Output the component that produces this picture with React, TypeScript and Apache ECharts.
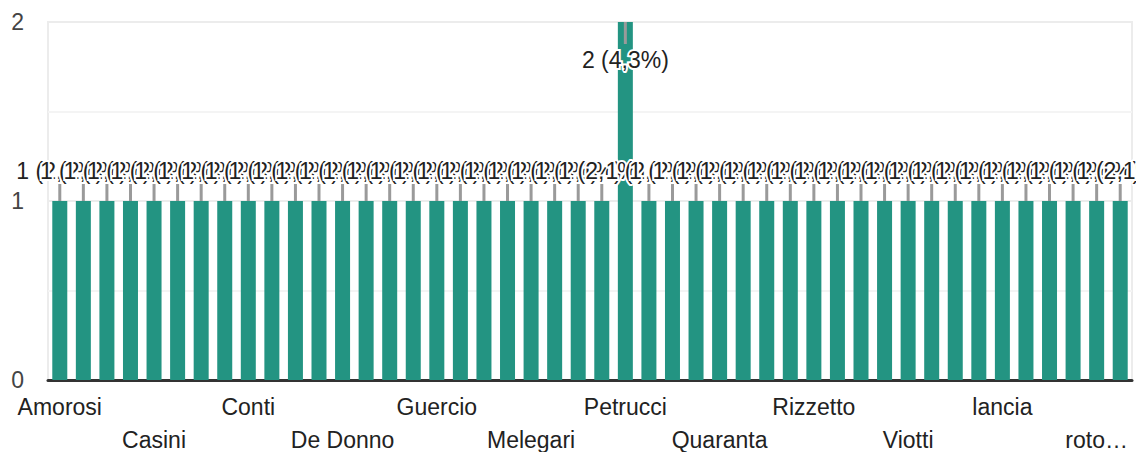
import React, { useEffect, useRef } from "react";
import * as echarts from "echarts";

const categories = [
  "Amorosi", "Bassi", "Bianchi", "Bruno",
  "Casini", "Cattaneo", "Colombo", "Conte",
  "Conti", "Coppola", "Costa", "De Angelis",
  "De Donno", "Esposito", "Ferrari", "Galli",
  "Guercio", "Leone", "Lombardi", "Marino",
  "Melegari", "Moretti", "Neri", "Pellegrini",
  "Petrucci", "Pozzi", "Puglisi", "Quaglia",
  "Quaranta", "Ricci", "Rinaldi", "Riva",
  "Rizzetto", "Romano", "Santoro", "Villa",
  "Viotti", "Vitale", "Zanetti", "ferri",
  "lancia", "mancini", "pace", "rossi",
  "roto…", "verdi",
];

const values = [
  1, 1, 1, 1,
  1, 1, 1, 1,
  1, 1, 1, 1,
  1, 1, 1, 1,
  1, 1, 1, 1,
  1, 1, 1, 1,
  2, 1, 1, 1,
  1, 1, 1, 1,
  1, 1, 1, 1,
  1, 1, 1, 1,
  1, 1, 1, 1,
  1, 1,
];

const yTicks = [0, 1, 2];

const FONT = "Arial, 'Liberation Sans', sans-serif";

export default function App() {
  const ref = useRef<HTMLDivElement>(null);

  useEffect(() => {
    document.body.style.margin = "0";
    if (!ref.current) return;
    const chart = echarts.init(ref.current, null, { renderer: "svg" });
    const total = values.reduce((a, b) => a + b, 0);
    const yMax = yTicks[yTicks.length - 1];
    const fmt = (v: number) =>
      `${v} (${((v / total) * 100).toFixed(1).replace(".", ",")}%)`;

    chart.setOption({
      animation: false,
      grid: {
        left: 48,
        right: 4,
        top: 22,
        bottom: 72,
        outerBoundsMode: "none",
        containLabel: false,
        show: true,
        borderColor: "#ececec",
        borderWidth: 2,
      },
      xAxis: {
        type: "category",
        data: categories,
        axisLine: { show: true, lineStyle: { color: "#333", width: 3 } },
        axisTick: { show: false },
        axisLabel: {
          interval: 3,
          margin: 10,
          fontSize: 23,
          lineHeight: 33,
          color: "#222",
          fontFamily: FONT,
          formatter: (value: string, index: number) =>
            index % 8 === 4 ? "\n" + value : value,
        },
        splitLine: { show: false },
      },
      yAxis: {
        type: "value",
        min: yTicks[0],
        max: yMax,
        interval: 1,
        axisLine: { show: false },
        axisTick: { show: false },
        axisLabel: {
          margin: 24,
          fontSize: 23,
          color: "#444",
          fontFamily: FONT,
        },
        splitLine: { show: true, lineStyle: { color: "#ececec", width: 2 } },
        minorTick: { show: false, splitNumber: 2 },
        minorSplitLine: { show: true, lineStyle: { color: "#f4f4f4", width: 2 } },
      },
      series: [
        {
          type: "bar",
          data: values.map((v) =>
            v >= yMax
              ? {
                  value: v,
                  label: { position: "insideTop", distance: 26 },
                }
              : v
          ),
          barWidth: 15,
          itemStyle: { color: "#239482" },
          label: {
            show: true,
            position: "top",
            distance: 19,
            fontSize: 23,
            lineHeight: 23,
            color: "#222",
            fontFamily: FONT,
            textBorderColor: "#fff",
            textBorderWidth: 4,
            formatter: (p: any) => fmt(p.value),
          },
          z: 2,
        },
        {
          type: "custom",
          z: 3,
          data: values.map((v, i) => [i, v]),
          encode: { x: 0, y: 1 },
          renderItem: (params: any, api: any) => {
            const idx = api.value(0);
            const v = api.value(1);
            const p = api.coord([idx, v]);
            const inside = v >= yMax;
            return {
              type: "line",
              shape: {
                x1: p[0],
                y1: p[1],
                x2: p[0],
                y2: inside ? p[1] + 22 : p[1] - 17,
              },
              style: { stroke: "#9a9a9a", lineWidth: 3 },
            };
          },
          tooltip: { show: false },
        },
      ],
    });

    return () => chart.dispose();
  }, []);

  return <div ref={ref} style={{ width: 1136, height: 452 }} />;
}
